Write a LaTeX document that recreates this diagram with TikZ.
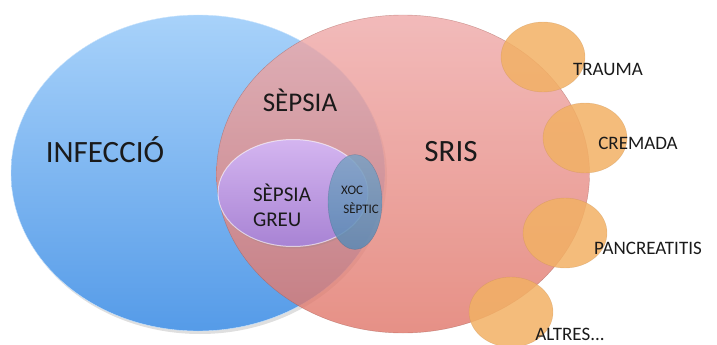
\documentclass[tikz,border=0pt]{standalone}
\usepackage{fontspec}
\setmainfont{Carlito}
\usetikzlibrary{shapes.geometric,positioning,shadows}

\definecolor{infblue}{HTML}{A8D2FA}
\definecolor{infbluedark}{HTML}{559BE8}
\definecolor{srisred}{HTML}{EFA9A9}
\definecolor{srisreddark}{HTML}{E07568}
\definecolor{greulilac}{HTML}{D4B5F0}
\definecolor{greulilacdark}{HTML}{A883D4}
\definecolor{xocblue}{HTML}{5A8AB5}
\definecolor{causeorange}{HTML}{F2B064}
\definecolor{txt}{HTML}{1A1A1A}

\begin{document}
\begin{tikzpicture}[
  x=1pt, y=-1pt,
  set/.style={ellipse, inner sep=0pt},
  cause/.style={set, minimum width=84pt, minimum height=70pt,
    fill=causeorange, fill opacity=0.85, draw=causeorange!80!black, draw opacity=0.4},
  bigtext/.style={font=\fontsize{31}{36}\selectfont, text=txt},
  midtext/.style={font=\fontsize{24}{28}\selectfont, text=txt, align=left},
  causetext/.style={font=\fontsize{19}{22}\selectfont, text=txt}
]
\useasboundingbox (0,0) rectangle (717,345);

% sets
\node[set, minimum width=374pt, minimum height=316pt,
  top color=infblue, bottom color=infbluedark,
  draw=infblue!60!white, drop shadow={opacity=0.25, shadow xshift=2pt, shadow yshift=-3pt}]
  (infeccio) at (198,173) {};
\node[set, minimum width=373pt, minimum height=318pt,
  top color=srisred, bottom color=srisreddark, fill opacity=0.8,
  draw=srisreddark!70!black, draw opacity=0.5]
  (sris) at (403,174) {};
\node[set, minimum width=150pt, minimum height=107pt,
  top color=greulilac, bottom color=greulilacdark,
  draw=white, draw opacity=0.6, line width=1pt,
  drop shadow={opacity=0.2, shadow xshift=1pt, shadow yshift=-2pt}]
  (greu) at (293,193) {};
\node[set, minimum width=54pt, minimum height=95pt,
  top color=xocblue!80!white, bottom color=xocblue, fill opacity=0.85,
  draw=xocblue!70!black, draw opacity=0.4]
  (xoc) at (355,202) {};

% causes
\node[cause] (trauma) at (543,57) {};
\node[cause] (cremada) at (585,138) {};
\node[cause] (pancreatitis) at (565,233) {};
\node[cause] (altres) at (511,312) {};

% labels
\node[bigtext] (infecciotext) at (105,150) {INFECCIÓ};
\node[bigtext] (soristext) at (451,152) {SRIS};
\node[midtext, font=\fontsize{27}{30}\selectfont] (sepsiatext) at (300,100) {SÈPSIA};
\node[midtext, font=\fontsize{21}{25}\selectfont] (greutext) at (282,205) {SÈPSIA\\GREU};
\node[font=\fontsize{13}{19}\selectfont, text=txt, align=left] (xoctext) at (360,200) {XOC\\\,SÈPTIC};

\node[causetext] (traumatext) at (608,69) {TRAUMA};
\node[causetext] (cremadatext) at (638,143) {CREMADA};
\node[causetext] (pancreatitistext) at (648,248) {PANCREATITIS};
\node[causetext] (altrestext) at (570,334) {ALTRES...};
\end{tikzpicture}
\end{document}
